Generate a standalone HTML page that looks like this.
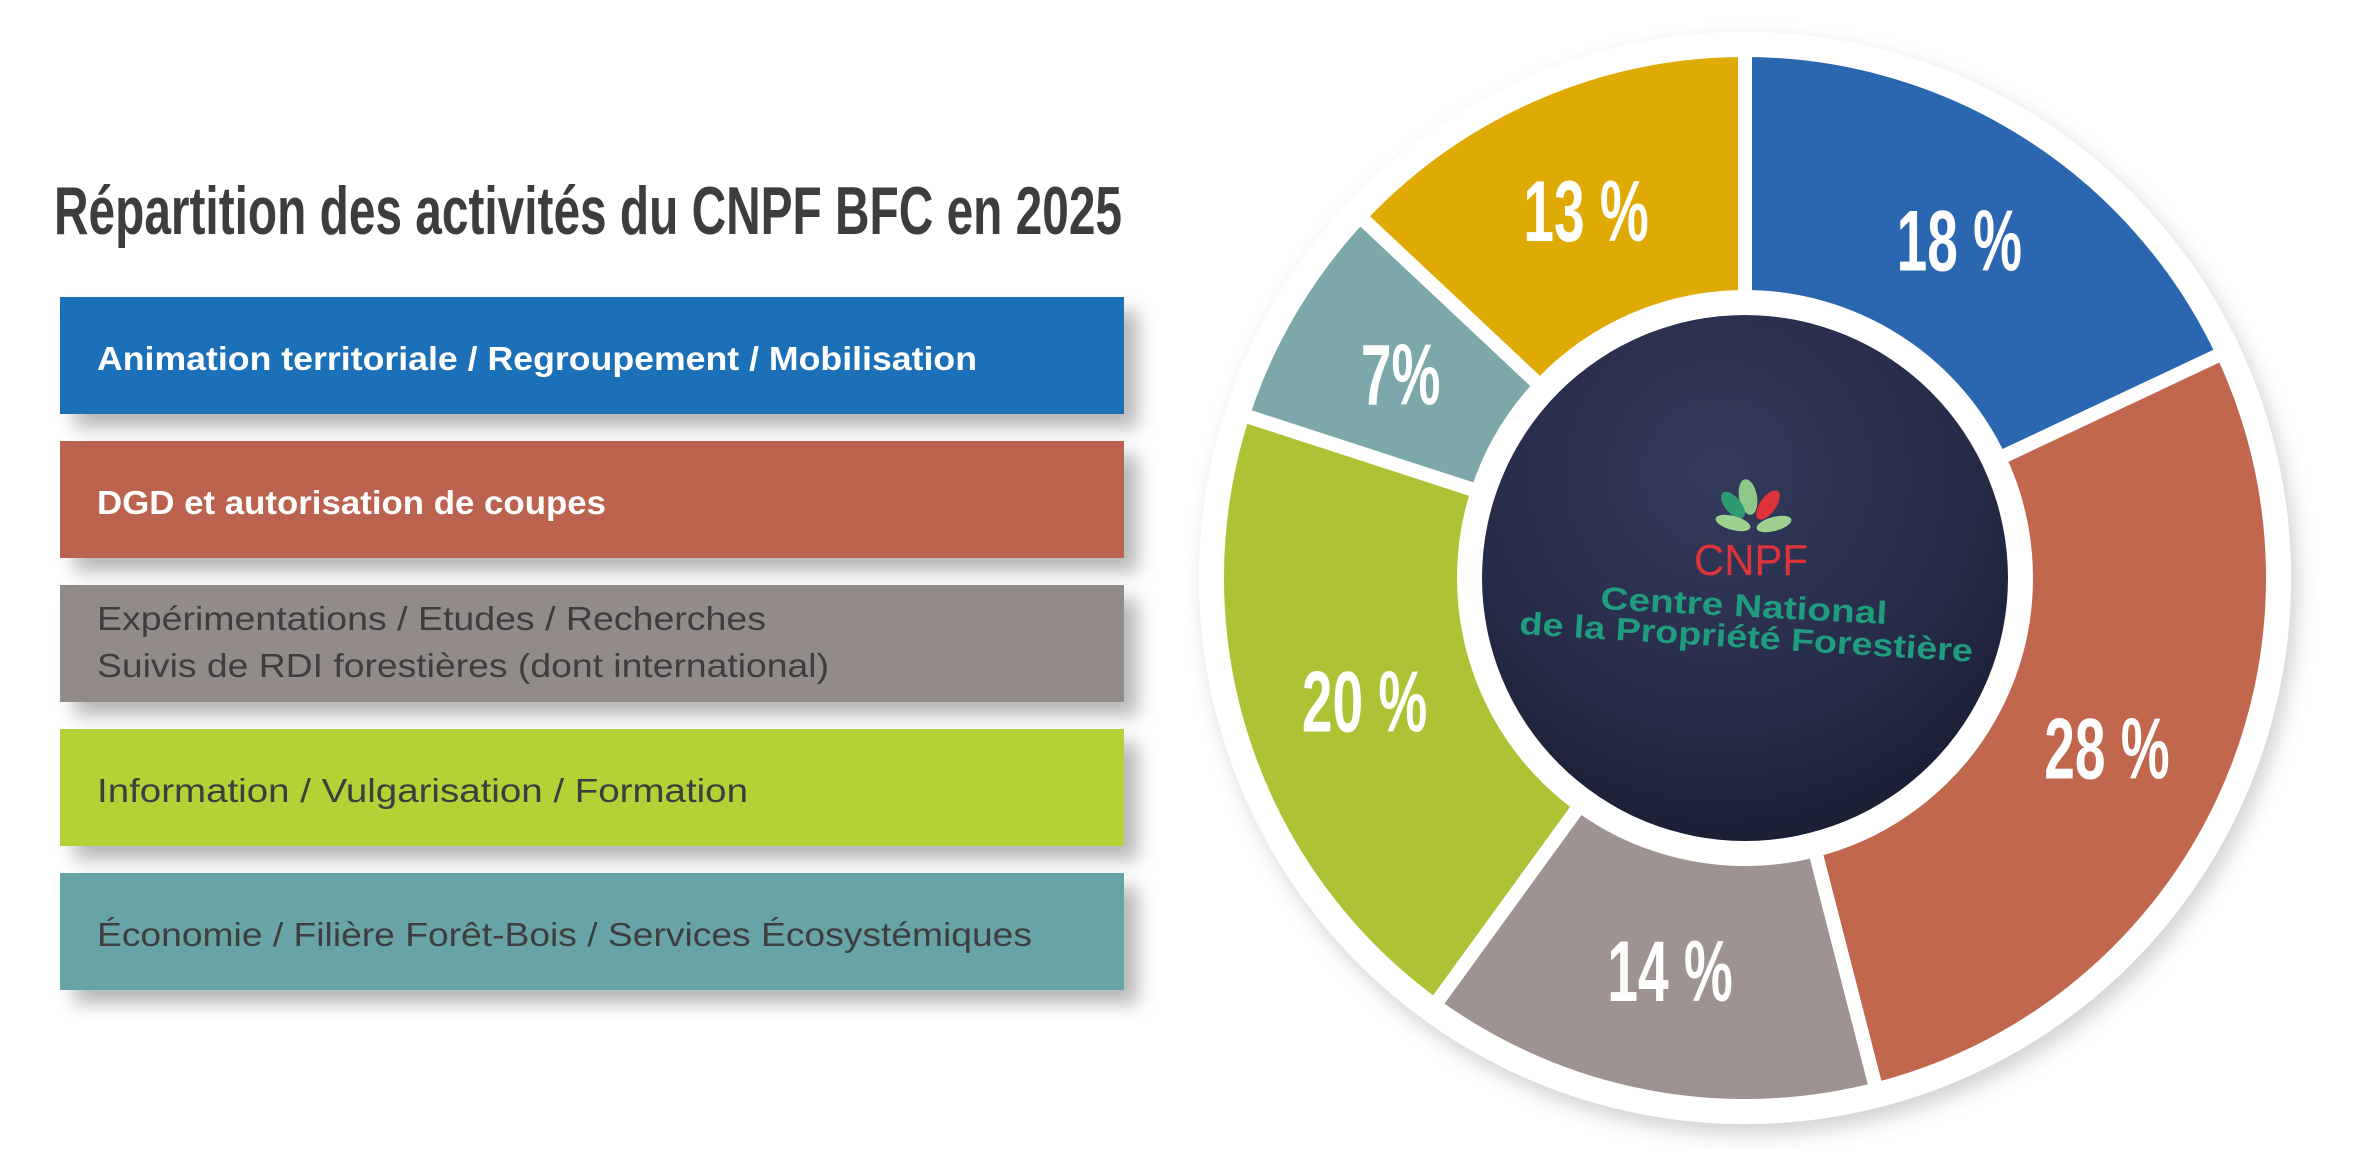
<!DOCTYPE html>
<html><head><meta charset="utf-8"><style>
html,body{margin:0;padding:0;background:#fff;}
svg{display:block;}
text{font-family:"Liberation Sans",sans-serif;}
</style></head><body>
<svg id="chart" width="2368" height="1149" viewBox="0 0 2368 1149" xmlns="http://www.w3.org/2000/svg">
<defs>
<filter id="sh" x="-10%" y="-30%" width="130%" height="190%"><feDropShadow dx="14" dy="14" stdDeviation="9" flood-color="#000" flood-opacity="0.28"/></filter>
<filter id="sh2" x="-10%" y="-10%" width="120%" height="120%"><feDropShadow dx="6" dy="10" stdDeviation="10" flood-color="#000" flood-opacity="0.18"/></filter>
<radialGradient id="shirt" cx="0.45" cy="0.3" r="0.8"><stop offset="0" stop-color="#333a5c"/><stop offset="0.6" stop-color="#262b47"/><stop offset="1" stop-color="#161a2c"/></radialGradient>
</defs>
<text x="54" y="234" font-size="68" font-weight="bold" fill="#3d3d3d" textLength="1068" lengthAdjust="spacingAndGlyphs">Répartition des activités du CNPF BFC en 2025</text>
<g id="legend"></g>
<circle cx="1745" cy="578" r="546" fill="#fff" filter="url(#sh2)"/>
<g id="slices"></g>
<g>
<circle cx="1745" cy="578" r="263" fill="url(#shirt)"/>
<g>
<ellipse cx="1748" cy="497" rx="9" ry="18" fill="#8fc98a" transform="rotate(-10 1748 497)"/>
<ellipse cx="1733" cy="505" rx="8" ry="16" fill="#2e9a72" transform="rotate(-40 1733 505)"/>
<ellipse cx="1768" cy="505" rx="8" ry="17" fill="#e0323a" transform="rotate(35 1768 505)"/>
<ellipse cx="1733" cy="523" rx="7" ry="18" fill="#9ed090" transform="rotate(-75 1733 523)"/>
<ellipse cx="1774" cy="524" rx="7" ry="18" fill="#9ed090" transform="rotate(75 1774 524)"/>
</g>
<text x="1694" y="575" font-size="44" fill="#e0323a" textLength="114" lengthAdjust="spacingAndGlyphs">CNPF</text>
<text x="1600" y="609" font-size="32" font-weight="bold" fill="#1f9d7c" textLength="287" lengthAdjust="spacingAndGlyphs" transform="rotate(3 1600 609)">Centre National</text>
<text x="1519" y="634" font-size="32" font-weight="bold" fill="#1f9d7c" textLength="454" lengthAdjust="spacingAndGlyphs" transform="rotate(3.5 1519 634)">de la Propriété Forestière</text>
</g>
<g id="labels"></g>
</svg>
<script>
const categories = ["Animation territoriale / Regroupement / Mobilisation","DGD et autorisation de coupes","Expérimentations / Etudes / Recherches|Suivis de RDI forestières (dont international)","Information / Vulgarisation / Formation","Économie / Filière Forêt-Bois / Services Écosystémiques"];
const sliceValues = [18, 28, 14, 20, 7, 13];
const sliceLabels = ["18 %", "28 %", "14 %", "20 %", "7%", "13 %"];
const sliceColors = ["#2b67b0", "#c0674e", "#9f9392", "#afc236", "#7ca8ac", "#dfaa04"];
const legendColors = ["#1f6fb7", "#bb644f", "#938a8a", "#b3d234", "#68a4a6"];
const legendTextColors = ["#fff", "#fff", "#3e3e3e", "#3e3e3e", "#3e3e3e"];
const legendBold = [true, true, false, false, false];
const legendWidths = [[880],[509],[669,732],[651],[935]];

const NS = "http://www.w3.org/2000/svg";
function mk(tag, attrs, parent){const e=document.createElementNS(NS,tag);for(const k in attrs)e.setAttribute(k,attrs[k]);parent.appendChild(e);return e;}

const lg = document.getElementById('legend');
categories.forEach((c,i)=>{
  const y = 297 + i*144;
  const r = mk('rect',{x:60,y:y,width:1064,height:117,fill:legendColors[i],filter:'url(#sh)'},lg);
  
  
  const lines = c.split('|');
  lines.forEach((ln,j)=>{
    const by = lines.length===1 ? y+73 : y+45+j*47;
    const t = mk('text',{x:97,y:by,'font-size':33,fill:legendTextColors[i],'font-weight':legendBold[i]?'bold':'normal',textLength:legendWidths[i][j],lengthAdjust:'spacingAndGlyphs'},lg);
    t.textContent = ln;
    
    
  });
});

const cx=1745, cy=578, R=528, r0=281;
const total = sliceValues.reduce((a,b)=>a+b,0);
function pt(rad, ang){return [cx+rad*Math.sin(ang), cy-rad*Math.cos(ang)];}
const sg = document.getElementById('slices'), lb = document.getElementById('labels');
let acc=0;
sliceValues.forEach((v,i)=>{
  const a0 = acc/total*2*Math.PI, a1=(acc+v)/total*2*Math.PI; acc+=v;
  const large = (a1-a0)>Math.PI?1:0;
  const [x0,y0]=pt(R,a0),[x1,y1]=pt(R,a1),[x2,y2]=pt(r0,a1),[x3,y3]=pt(r0,a0);
  const p = mk('path',{d:`M${x0},${y0} A${R},${R} 0 ${large} 1 ${x1},${y1} L${x2},${y2} A${r0},${r0} 0 ${large} 0 ${x3},${y3} Z`,fill:sliceColors[i],stroke:'#fff','stroke-width':14,'stroke-linejoin':'miter'},sg);
  
  
  const am=(a0+a1)/2, [lx,ly]=pt(400,am);
  const g = mk('g',{transform:`translate(${lx},${ly+30}) scale(0.64,1)`},lb);
  const t = mk('text',{x:0,y:0,'text-anchor':'middle','font-size':86,'font-weight':'bold',fill:'#fff'},g);
  t.textContent = sliceLabels[i];
  
  
});
</script>
</body></html>
